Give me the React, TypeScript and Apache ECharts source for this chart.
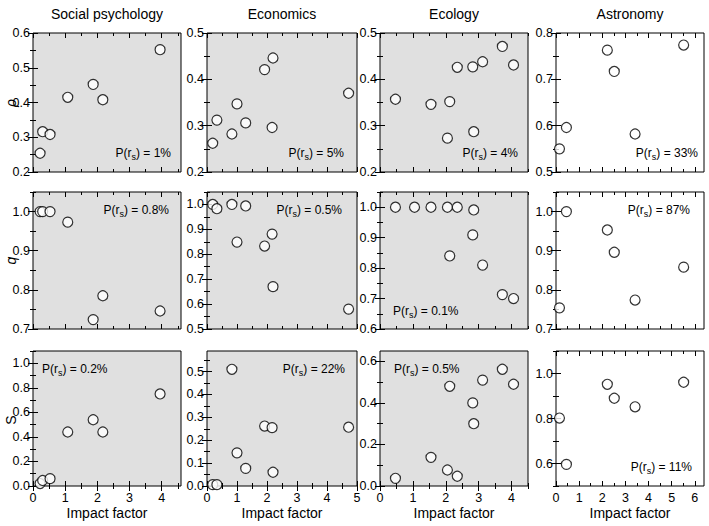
import React, { useEffect, useRef } from 'react';
import * as echarts from 'echarts';

const FONT = '"Liberation Sans", Arial, Helvetica, sans-serif';

const disciplines = ['Social psychology', 'Economics', 'Ecology', 'Astronomy'];
const metricNames = ['ρ', 'q', 'S'];

// Impact factors and metric values per discipline
const socialIF = [0.22, 0.3, 0.53, 1.08, 1.87, 2.17, 3.95];
const socialRho = [0.254, 0.316, 0.308, 0.415, 0.452, 0.408, 0.552];
const socialQ = [1.0, 1.0, 1.0, 0.973, 0.724, 0.785, 0.746];
const socialS = [0.02, 0.045, 0.06, 0.44, 0.54, 0.44, 0.75];

const econIF = [0.19, 0.33, 0.83, 1.0, 1.29, 1.92, 2.17, 2.2, 4.72];
const econRho = [0.262, 0.312, 0.282, 0.347, 0.306, 0.421, 0.296, 0.446, 0.37];
const econQ = [1.0, 0.983, 1.0, 0.849, 0.994, 0.833, 0.881, 0.67, 0.58];
const econS = [0.006, 0.006, 0.51, 0.145, 0.077, 0.262, 0.255, 0.06, 0.257];

const ecoIF = [0.47, 1.05, 1.55, 2.05, 2.12, 2.35, 2.82, 2.85, 3.12, 3.72, 4.06];
const ecoRho = [0.357, null, 0.346, 0.273, 0.352, 0.426, 0.427, 0.287, 0.438, 0.471, 0.431];
const ecoQ = [1.0, 1.0, 1.0, 1.0, 0.84, 1.0, 0.909, 0.991, 0.81, 0.713, 0.7];
const ecoS = [0.037, null, 0.138, 0.077, 0.48, 0.047, 0.4, 0.3, 0.51, 0.562, 0.49];

const astroIF = [0.15, 0.45, 2.22, 2.52, 3.42, 5.52];
const astroRho = [0.55, 0.596, 0.763, 0.717, 0.582, 0.774];
const astroQ = [0.754, 1.0, 0.953, 0.896, 0.774, 0.858];
const astroS = [0.802, 0.596, 0.952, 0.89, 0.852, 0.961];

// P(r_s) labels
const pRho = ['1%', '5%', '4%', '33%'];
const pQ = ['0.8%', '0.5%', '0.1%', '87%'];
const pS = ['0.2%', '22%', '0.5%', '11%'];

const impactFactors = [socialIF, econIF, ecoIF, astroIF];
const metricValues = [
  [socialRho, econRho, ecoRho, astroRho],
  [socialQ, econQ, ecoQ, astroQ],
  [socialS, econS, ecoS, astroS],
];
const pLabels = [pRho, pQ, pS];

// Layout
const colLeft = [33, 207, 380, 556];
const colWidth = [148, 150, 148, 148];
const rowTop = [33, 192, 351];
const rowHeight = [139, 137, 135];
const bgColors = ['#e0e0e0', '#e0e0e0', '#e0e0e0', '#ffffff'];

// x axis max per column, major 1, minor 0.5
const xMax = [4.6, 5, 4.5, 6.4];
// y axis [min, max, major, minor] per row/column
const yAxisSpec = [
  [[0.2, 0.6, 0.1, 0.05], [0.2, 0.5, 0.1, 0.05], [0.2, 0.5, 0.1, 0.05], [0.5, 0.8, 0.1, 0.05]],
  [[0.7, 1.05, 0.1, 0.05], [0.5, 1.05, 0.1, 0.05], [0.6, 1.05, 0.1, 0.05], [0.7, 1.05, 0.1, 0.05]],
  [[0, 1.1, 0.2, 0.1], [0, 0.59, 0.1, 0.05], [0, 0.65, 0.2, 0.1], [0.5, 1.1, 0.2, 0.1]],
];
// P label placement [align, x, y]
const pPos: [string, number, number][][] = [
  [['right', 171, 154], ['right', 344, 154], ['right', 518, 154], ['right', 698, 154]],
  [['right', 169, 211], ['right', 342, 211], ['left', 393, 312], ['right', 690, 211]],
  [['left', 42, 370], ['right', 345, 370], ['left', 394, 370], ['right', 692, 468]],
];

function steps(min: number, max: number, step: number): number[] {
  const out: number[] = [];
  const k0 = Math.ceil(min / step - 1e-6);
  for (let k = k0; k * step <= max + 1e-6; k++) out.push(Number((k * step).toFixed(6)));
  return out;
}

function tick(len: number, values: number[]) {
  return { show: true, inside: true, length: len, customValues: values, lineStyle: { color: '#000', width: 1 } };
}

function buildOption() {
  const grid: any[] = [];
  const xAxis: any[] = [];
  const yAxis: any[] = [];
  const series: any[] = [];
  const graphic: any[] = [];

  for (let r = 0; r < 3; r++) {
    for (let c = 0; c < 4; c++) {
      const gi = grid.length;
      grid.push({
        left: colLeft[c], top: rowTop[r], width: colWidth[c], height: rowHeight[r],
        show: true, backgroundColor: bgColors[c], borderColor: '#000', borderWidth: 1,
      });
      const xMaj = steps(0, xMax[c], 1);
      const xMin = steps(0, xMax[c], 0.5).filter((v) => !xMaj.includes(v));
      const [y0, y1, yMj, yMn] = yAxisSpec[r][c];
      const yMaj = steps(y0, y1, yMj);
      const yMin = steps(y0, y1, yMn).filter((v) => !yMaj.some((m) => Math.abs(m - v) < 1e-6));

      const xBase = { type: 'value', gridIndex: gi, min: 0, max: xMax[c], splitLine: { show: false }, axisLine: { show: false } };
      const xi = xAxis.length;
      xAxis.push({
        ...xBase, position: 'bottom', axisTick: tick(5, xMaj),
        axisLabel: {
          show: r === 2, customValues: xMaj, margin: 5, color: '#000', fontSize: 12.5, fontFamily: FONT,
          formatter: (v: number) => String(Math.round(v)),
        },
      });
      xAxis.push({ ...xBase, position: 'bottom', axisTick: tick(3, xMin), axisLabel: { show: false } });
      xAxis.push({ ...xBase, position: 'top', axisTick: tick(5, xMaj), axisLabel: { show: false } });
      xAxis.push({ ...xBase, position: 'top', axisTick: tick(3, xMin), axisLabel: { show: false } });

      const yBase = { type: 'value', gridIndex: gi, min: y0, max: y1, splitLine: { show: false }, axisLine: { show: false } };
      const yi = yAxis.length;
      yAxis.push({
        ...yBase, position: 'left', axisTick: tick(5, yMaj),
        axisLabel: {
          show: true, customValues: yMaj, margin: 3, color: '#000', fontSize: 12.5, fontFamily: FONT,
          formatter: (v: number) => v.toFixed(1),
        },
      });
      yAxis.push({ ...yBase, position: 'left', axisTick: tick(3, yMin), axisLabel: { show: false } });
      yAxis.push({ ...yBase, position: 'right', axisTick: tick(5, yMaj), axisLabel: { show: false } });
      yAxis.push({ ...yBase, position: 'right', axisTick: tick(3, yMin), axisLabel: { show: false } });

      const xs = impactFactors[c];
      const ys = metricValues[r][c];
      const data = xs.map((x, i) => [x, ys[i]]).filter((d) => d[1] !== null);
      series.push({
        type: 'scatter', xAxisIndex: xi, yAxisIndex: yi, data,
        symbol: 'circle', symbolSize: 10, clip: false, silent: true, z: 5,
        itemStyle: { color: '#ffffff', borderColor: '#000000', borderWidth: 1.2 },
      });

      const [align, px, py] = pPos[r][c];
      graphic.push({
        type: 'text', x: px, y: py, z: 10,
        style: {
          text: `{m|P(r}{s|s}{m|) = ${pLabels[r][c]}}`,
          textAlign: align, textVerticalAlign: 'middle',
          font: `12px ${FONT}`, fill: '#000',
          rich: {
            m: { fontSize: 12, fontFamily: FONT, lineHeight: 14, verticalAlign: 'top', fill: '#000' },
            s: { fontSize: 9, fontFamily: FONT, lineHeight: 8, verticalAlign: 'bottom', fill: '#000' },
          },
        },
      });
    }
  }

  for (let c = 0; c < 4; c++) {
    const cx = colLeft[c] + colWidth[c] / 2;
    graphic.push({
      type: 'text', x: cx, y: 13.5,
      style: { text: disciplines[c], font: `14px ${FONT}`, fill: '#000', textAlign: 'center', textVerticalAlign: 'middle' },
    });
    graphic.push({
      type: 'text', x: cx, y: 513,
      style: { text: 'Impact factor', font: `14px ${FONT}`, fill: '#000', textAlign: 'center', textVerticalAlign: 'middle' },
    });
  }
  const nameY = [103, 260.5, 420];
  for (let r = 0; r < 3; r++) {
    graphic.push({
      type: 'text', x: 10.5, y: nameY[r], rotation: Math.PI / 2,
      style: {
        text: metricNames[r], font: `${r < 2 ? 'italic ' : ''}14px ${FONT}`, fill: '#000',
        textAlign: 'center', textVerticalAlign: 'middle',
      },
    });
  }

  return { animation: false, backgroundColor: '#ffffff', grid, xAxis, yAxis, series, graphic };
}

export default function App() {
  const ref = useRef<HTMLDivElement>(null);
  useEffect(() => {
    if (!ref.current) return;
    const chart = echarts.init(ref.current, undefined, { renderer: 'svg' });
    chart.setOption(buildOption() as any);
    return () => chart.dispose();
  }, []);
  return <div ref={ref} style={{ position: 'fixed', left: 0, top: 0, width: 709, height: 526 }} />;
}
